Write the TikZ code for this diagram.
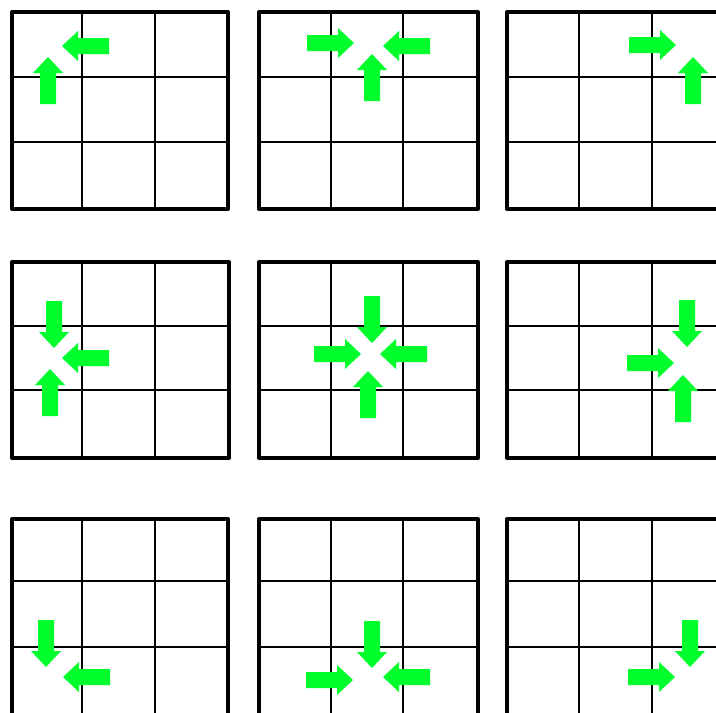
\documentclass[tikz,border=0pt]{standalone}
\definecolor{arrowgreen}{RGB}{0,255,45}
\tikzset{
  outerframe/.style={line width=4pt,line join=round},
  innerline/.style={line width=2.5pt},
  arrowfill/.style={fill=arrowgreen}
}
% #1,#2: tip position in pixels (x right, y down); #3: direction angle
\newcommand\garrow[3]{%
  \fill[arrowfill,shift={(#1,#2)},rotate=#3]
    (0,0) -- (-16,15) -- (-16,8) -- (-47,8) -- (-47,-8) -- (-16,-8) -- (-16,-15) -- cycle;}
% grid: L v1 v2 R T h1 h2 B
\newcommand\ggrid[8]{%
  \draw[innerline] (#2,#5) -- (#2,#8) (#3,#5) -- (#3,#8)
                   (#1,#6) -- (#4,#6) (#1,#7) -- (#4,#7);
  \draw[outerframe] (#1,#5) rectangle (#4,#8);}
\begin{document}
\begin{tikzpicture}[x=1pt,y=-1pt]
\useasboundingbox (0,0) rectangle (716,713);
\clip (0,0) rectangle (716,713);
% row 1
\ggrid{12}{82}{155}{228}{12}{77}{142}{209}
\ggrid{259}{331}{403}{478}{12}{77}{142}{209}
\ggrid{507}{579}{652}{725}{12}{77}{142}{209}
% row 2
\ggrid{12}{82}{155}{229}{262}{326}{390}{458}
\ggrid{259}{331}{403}{478}{262}{326}{390}{458}
\ggrid{507}{579}{652}{725}{262}{326}{390}{458}
% row 3
\ggrid{12}{82}{155}{228}{519}{581}{647}{716}
\ggrid{259}{331}{403}{478}{519}{581}{647}{716}
\ggrid{507}{579}{652}{725}{519}{581}{647}{716}
% arrows: angle 0 = right, 180 = left, 90 = up (visual), -90 = down
% grid 1
\garrow{62}{46}{180}
\garrow{48}{57}{90}
% grid 2
\garrow{354}{43}{0}
\garrow{383}{46}{180}
\garrow{372}{54}{90}
% grid 3
\garrow{676}{45}{0}
\garrow{693}{57}{90}
% grid 4
\garrow{54}{348}{-90}
\garrow{62}{358}{180}
\garrow{50}{369}{90}
% grid 5
\garrow{372}{343}{-90}
\garrow{361}{354}{0}
\garrow{380}{354}{180}
\garrow{368}{371}{90}
% grid 6
\garrow{687}{347}{-90}
\garrow{674}{363}{0}
\garrow{683}{375}{90}
% grid 7
\garrow{46}{667}{-90}
\garrow{63}{677}{180}
% grid 8
\garrow{372}{668}{-90}
\garrow{353}{680}{0}
\garrow{383}{677}{180}
% grid 9
\garrow{690}{667}{-90}
\garrow{675}{677}{0}
\end{tikzpicture}
\end{document}
